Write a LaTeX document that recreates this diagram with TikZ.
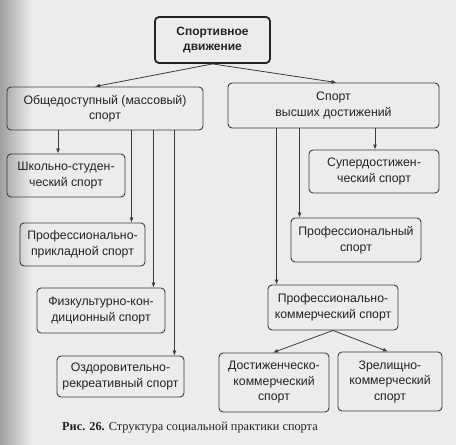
\documentclass[tikz,border=0pt]{standalone}
\usepackage{fontspec}
\setmainfont{Liberation Sans}
\newfontfamily\capfont{Liberation Serif}
\usetikzlibrary{arrows.meta}
\definecolor{bg}{RGB}{236,236,234}
\definecolor{ink}{RGB}{35,35,35}
\definecolor{boxc}{RGB}{60,60,60}
\tikzset{
  box/.style={draw=boxc, rounded corners=4pt, line width=0.9pt, align=center, inner sep=0pt, text=ink,
    font=\fontsize{12.3}{15.5}\selectfont},
  topbox/.style={box, line width=1.8pt, draw=ink, font=\fontsize{12}{15.5}\selectfont\bfseries},
  arr/.style={draw=boxc, line width=0.8pt, -{Latex[length=5pt,width=4pt]}},
}
\begin{document}
\begin{tikzpicture}[x=1pt,y=-1pt]
\useasboundingbox (0,0) rectangle (456,445);
\fill[bg] (0,0) rectangle (456,445);
\shade[left color=gray!75, right color=bg] (0,0) rectangle (32,445);

\node[topbox, minimum width=115pt, minimum height=46pt] (top) at (212.5,40) {Спортивное\\движение};

\node[box, minimum width=196pt, minimum height=43pt] (L1) at (105,108.5) {Общедоступный (массовый)\\спорт};
\node[box, minimum width=211pt, minimum height=45pt] (R1) at (333.5,105.5) {Спорт\\высших достижений};

\node[box, minimum width=118pt, minimum height=43pt] (L2) at (66,175.5) {Школьно-студен-\\ческий спорт};
\node[box, minimum width=125pt, minimum height=43pt] (L3) at (82.5,244.5) {Профессионально-\\прикладной спорт};
\node[box, minimum width=128pt, minimum height=45pt] (L4) at (101,310.5) {Физкультурно-кон-\\диционный спорт};
\node[box, minimum width=127pt, minimum height=41pt] (L5) at (120.5,376.5) {Оздоровительно-\\рекреативный спорт};

\node[box, minimum width=130pt, minimum height=43pt] (R2) at (374,171.5) {Супердостижен-\\ческий спорт};
\node[box, minimum width=130pt, minimum height=44pt] (R3) at (356,240) {Профессиональный\\спорт};
\node[box, minimum width=130pt, minimum height=45pt] (R4) at (333,307.5) {Профессионально-\\коммерческий спорт};
\node[box, minimum width=110pt, minimum height=59pt] (R5) at (274,382.5) {Достиженческо-\\коммерческий\\спорт};
\node[box, minimum width=104pt, minimum height=59pt] (R6) at (390,381.5) {Зрелищно-\\коммерческий\\спорт};

\node[font=\capfont\fontsize{12.3}{14}\selectfont, text=ink, anchor=west, inner sep=0pt] (cap) at (62,428) {\textbf{Рис. 26.} Структура социальной практики спорта};

% connectors
\draw[arr] (top.south) -- ([xshift=-10pt]L1.north);
\draw[arr] (top.south) -- ([xshift=3pt]R1.north);

\draw[arr] ([xshift=-8pt]L2.north |- L1.south) -- ([xshift=-8pt]L2.north);
\draw[arr] ([xshift=-14pt]L3.north east |- L1.south) -- ([xshift=-14pt]L3.north east);
\draw[arr] ([xshift=-12pt]L4.north east |- L1.south) -- ([xshift=-12pt]L4.north east);
\draw[arr] ([xshift=-10pt]L5.north east |- L1.south) -- ([xshift=-10pt]L5.north east);

\draw[arr] ([xshift=1pt]R2.north |- R1.south) -- ([xshift=1pt]R2.north);
\draw[arr] ([xshift=9pt]R3.north west |- R1.south) -- ([xshift=9pt]R3.north west);
\draw[arr] ([xshift=9pt]R4.north west |- R1.south) -- ([xshift=9pt]R4.north west);

\draw[arr] (R4.south) -- ([xshift=-1pt]R5.north);
\draw[arr] (R4.south) -- ([xshift=-2pt]R6.north);
\end{tikzpicture}
\end{document}
